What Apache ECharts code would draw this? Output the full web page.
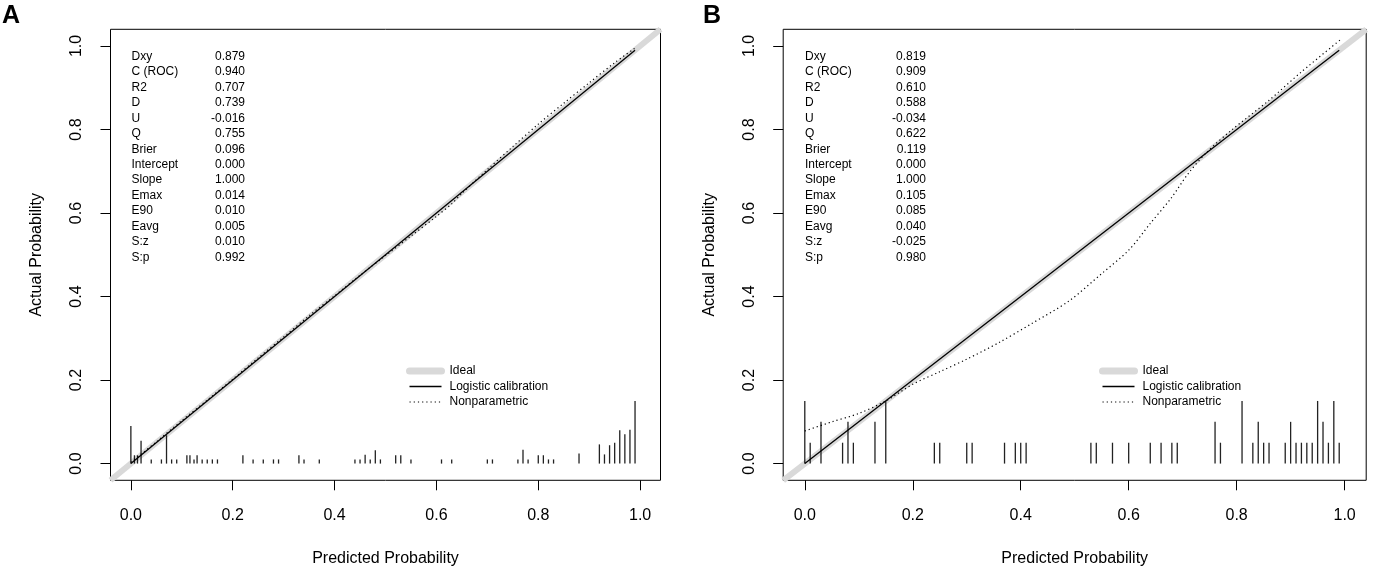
<!DOCTYPE html>
<html>
<head>
<meta charset="utf-8">
<script src="https://cdn.jsdelivr.net/npm/echarts@6/dist/echarts.min.js"></script>
<style>
  html, body { margin: 0; padding: 0; background: #fff; }
  #chart { width: 1375px; height: 576px; }
</style>
</head>
<body>
<div id="chart"></div>
<script>
// ---- data ----
const tickValues = [0, 0.2, 0.4, 0.6, 0.8, 1.0];
const tickLabels = ['0.0', '0.2', '0.4', '0.6', '0.8', '1.0'];
const axisRange = [-0.04, 1.04];

const statNames = ['Dxy', 'C (ROC)', 'R2', 'D', 'U', 'Q', 'Brier', 'Intercept', 'Slope',
  'Emax', 'E90', 'Eavg', 'S:z', 'S:p'];
const statsA = ['0.879', '0.940', '0.707', '0.739', '-0.016', '0.755', '0.096', '0.000', '1.000',
  '0.014', '0.010', '0.005', '0.010', '0.992'];
const statsB = ['0.819', '0.909', '0.610', '0.588', '-0.034', '0.622', '0.119', '0.000', '1.000',
  '0.105', '0.085', '0.040', '-0.025', '0.980'];

const legendNames = ['Ideal', 'Logistic calibration', 'Nonparametric'];

// ideal diagonal spans the whole plot region
const idealX = [-0.04, 1.04];
const idealY = [-0.04, 1.04];

// logistic calibration (intercept 0, slope 1)
const logisticXA = [0, 0.99];
const logisticYA = [0, 0.99];
const logisticXB = [0, 0.99];
const logisticYB = [0, 0.99];

// nonparametric (loess) curves
const npXA = [0.00, 0.05, 0.10, 0.15, 0.20, 0.25, 0.30, 0.35, 0.40, 0.45, 0.50, 0.55, 0.60, 0.63, 0.65, 0.70, 0.75, 0.80, 0.85, 0.90, 0.95, 0.99];
const npYA = [0.003, 0.052, 0.103, 0.152, 0.202, 0.253, 0.303, 0.354, 0.402, 0.451, 0.498, 0.545, 0.592, 0.622, 0.647, 0.704, 0.759, 0.813, 0.863, 0.912, 0.960, 0.995];
const npXB = [0.00, 0.05, 0.10, 0.15, 0.20, 0.25, 0.30, 0.36, 0.42, 0.49, 0.55, 0.60, 0.64, 0.68, 0.71, 0.745, 0.79, 0.86, 0.92, 0.995];
const npYB = [0.078, 0.10, 0.12, 0.15, 0.19, 0.22, 0.25, 0.29, 0.335, 0.39, 0.455, 0.511, 0.575, 0.638, 0.694, 0.746, 0.798, 0.870, 0.938, 1.018];

// spike histogram of predicted probabilities
const rugXA = [0.000, 0.007, 0.013, 0.020, 0.040, 0.060, 0.070, 0.080, 0.090, 0.110, 0.116, 0.124, 0.130, 0.140, 0.150, 0.160, 0.170,
  0.22, 0.24, 0.26, 0.28, 0.29, 0.33, 0.34, 0.37, 0.44, 0.45, 0.46, 0.47, 0.48, 0.49, 0.52, 0.53, 0.55,
  0.61, 0.63, 0.70, 0.71, 0.76, 0.77, 0.78, 0.80, 0.81, 0.82, 0.83, 0.88, 0.92, 0.93, 0.94, 0.95, 0.96, 0.97, 0.98, 0.99];
const rugHA = [0.090, 0.020, 0.020, 0.055, 0.010, 0.010, 0.068, 0.010, 0.010, 0.020, 0.020, 0.010, 0.020, 0.010, 0.010, 0.010, 0.010,
  0.020, 0.010, 0.010, 0.010, 0.010, 0.020, 0.010, 0.010, 0.010, 0.010, 0.021, 0.010, 0.032, 0.010, 0.020, 0.020, 0.010,
  0.010, 0.010, 0.010, 0.010, 0.010, 0.033, 0.010, 0.020, 0.020, 0.010, 0.010, 0.024, 0.046, 0.022, 0.044, 0.050, 0.080, 0.070, 0.081, 0.150];
const rugXB = [0.00, 0.01, 0.03, 0.07, 0.08, 0.09, 0.13, 0.15, 0.24, 0.25, 0.30, 0.31, 0.37, 0.39, 0.40, 0.41,
  0.53, 0.54, 0.57, 0.60, 0.64, 0.66, 0.68, 0.69, 0.76, 0.77, 0.81, 0.83, 0.84, 0.85, 0.86,
  0.89, 0.90, 0.91, 0.92, 0.93, 0.94, 0.95, 0.96, 0.97, 0.98, 0.99];
const rugHB = [0.15, 0.05, 0.10, 0.05, 0.10, 0.05, 0.10, 0.15, 0.05, 0.05, 0.05, 0.05, 0.05, 0.05, 0.05, 0.05,
  0.05, 0.05, 0.05, 0.05, 0.05, 0.05, 0.05, 0.05, 0.10, 0.05, 0.15, 0.05, 0.10, 0.05, 0.05,
  0.05, 0.10, 0.05, 0.05, 0.05, 0.05, 0.15, 0.10, 0.05, 0.15, 0.05];

// ---- chart ----
const FONT = 'Arial, "Liberation Sans", sans-serif';
const zip = (xs, ys) => xs.map((x, i) => [x, ys[i]]);
const fmtTick = v => tickLabels[tickValues.indexOf(Math.round(v * 10) / 10)] || '';

function makeAxis(gridIndex, name, isY) {
  return {
    type: 'value',
    gridIndex: gridIndex,
    min: axisRange[0],
    max: axisRange[1],
    name: name,
    nameLocation: 'middle',
    nameGap: isY ? 66 : 70,
    nameTextStyle: { fontFamily: FONT, fontSize: 16, color: '#000' },
    axisLine: { show: false, onZero: false },
    axisTick: { show: true, length: 10, customValues: tickValues, lineStyle: { color: '#000', width: 1 } },
    axisLabel: {
      customValues: tickValues,
      formatter: fmtTick,
      rotate: isY ? 90 : 0,
      margin: isY ? 26 : 27,
      fontFamily: FONT, fontSize: 16, color: '#000'
    },
    splitLine: { show: false }
  };
}

function rugSeries(idx, xs, hs) {
  return {
    type: 'custom',
    xAxisIndex: idx, yAxisIndex: idx,
    data: zip(xs, hs),
    encode: { x: 0, y: 1 },
    z: 3,
    renderItem: function (params, api) {
      const p0 = api.coord([api.value(0), 0]);
      const p1 = api.coord([api.value(0), api.value(1)]);
      return {
        type: 'line',
        shape: { x1: p0[0], y1: p0[1], x2: p1[0], y2: p1[1] },
        style: { stroke: '#222', lineWidth: 1.3 }
      };
    }
  };
}

function panelSeries(idx, lx, ly, nx, ny) {
  return [
    {
      name: legendNames[0], type: 'line', xAxisIndex: idx, yAxisIndex: idx,
      data: zip(idealX, idealY), showSymbol: false, symbol: 'none', z: 1,
      lineStyle: { color: '#d9d9d9', width: 6 }, itemStyle: { color: '#d9d9d9' }
    },
    {
      name: legendNames[1], type: 'line', xAxisIndex: idx, yAxisIndex: idx,
      data: zip(lx, ly), showSymbol: false, symbol: 'none', z: 4,
      lineStyle: { color: '#000', width: 1.3 }, itemStyle: { color: '#000' }
    },
    {
      name: legendNames[2], type: 'line', xAxisIndex: idx, yAxisIndex: idx,
      data: zip(nx, ny), showSymbol: false, symbol: 'none', smooth: 0.3, z: 4,
      lineStyle: { color: '#000', width: 1.2, type: [1.2, 3] }, itemStyle: { color: '#000' }
    }
  ];
}

function legendAt(left) {
  return {
    data: [
      { name: legendNames[0], lineStyle: { width: 7, cap: 'round', color: '#d9d9d9' } },
      { name: legendNames[1], lineStyle: { width: 1.3 } },
      { name: legendNames[2], lineStyle: { width: 1.2, type: [1.2, 3] } }
    ],
    orient: 'vertical',
    left: left, top: 360,
    itemWidth: 32, itemHeight: 12, itemGap: 3.5,
    selectedMode: false,
    itemStyle: { color: 'transparent', borderWidth: 0, opacity: 0 },
    textStyle: { fontFamily: FONT, fontSize: 12, color: '#000', padding: [0, 0, 0, 3] }
  };
}

const graphics = [
  { type: 'text', x: 2, y: 4, style: { text: 'A', fontFamily: FONT, fontSize: 25, fontWeight: 'bold', fill: '#000' } },
  { type: 'text', x: 703, y: 4, style: { text: 'B', fontFamily: FONT, fontSize: 25, fontWeight: 'bold', fill: '#000' } }
];
statNames.forEach((n, i) => {
  const y = 56.7 + i * 15.43;
  graphics.push({ type: 'text', x: 131.5, y: y, style: { text: n, fontFamily: FONT, fontSize: 12, fill: '#000', verticalAlign: 'middle' } });
  graphics.push({ type: 'text', x: 245, y: y, style: { text: statsA[i], fontFamily: FONT, fontSize: 12, fill: '#000', align: 'right', verticalAlign: 'middle' } });
  graphics.push({ type: 'text', x: 805, y: y, style: { text: n, fontFamily: FONT, fontSize: 12, fill: '#000', verticalAlign: 'middle' } });
  graphics.push({ type: 'text', x: 926, y: y, style: { text: statsB[i], fontFamily: FONT, fontSize: 12, fill: '#000', align: 'right', verticalAlign: 'middle' } });
});

const chart = echarts.init(document.getElementById('chart'));
chart.setOption({
  animation: false,
  backgroundColor: '#fff',
  grid: [
    { left: 110.5, top: 29.3, width: 550, height: 451, show: true, borderColor: '#000', borderWidth: 1, backgroundColor: 'transparent' },
    { left: 783.2, top: 29.3, width: 583, height: 451, show: true, borderColor: '#000', borderWidth: 1, backgroundColor: 'transparent' }
  ],
  xAxis: [makeAxis(0, 'Predicted Probability', false), makeAxis(1, 'Predicted Probability', false)],
  yAxis: [makeAxis(0, 'Actual Probability', true), makeAxis(1, 'Actual Probability', true)],
  legend: [legendAt(401), legendAt(1094)],
  series: [
    ...panelSeries(0, logisticXA, logisticYA, npXA, npYA),
    rugSeries(0, rugXA, rugHA),
    ...panelSeries(1, logisticXB, logisticYB, npXB, npYB),
    rugSeries(1, rugXB, rugHB)
  ],
  graphic: graphics
});
</script>
</body>
</html>
